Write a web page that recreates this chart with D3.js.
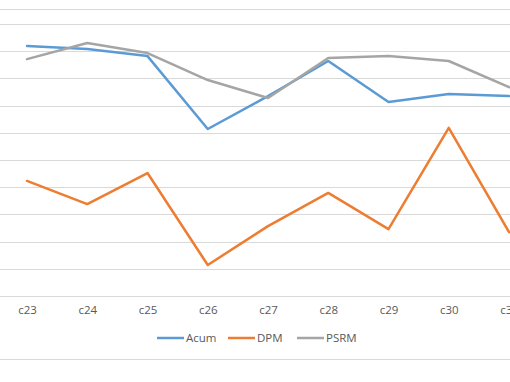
<!DOCTYPE html>
<html>
<head>
<meta charset="utf-8">
<script src="https://cdn.jsdelivr.net/npm/d3@7"></script>
<style>
  body { margin: 0; background: #fff; }
  text { font-family: "Open Sans", "Liberation Sans", sans-serif; fill: #595959; }
</style>
</head>
<body>
<svg id="chart" width="510" height="382"></svg>
<script>
// categories (c31 sits on the right edge, cropped)
var categories = ["c23", "c24", "c25", "c26", "c27", "c28", "c29", "c30", "c31"];

// series values (gridline = 1 unit)
var acum = [9.19, 9.08, 8.82, 6.14, 7.35, 8.64, 7.13, 7.43, 7.35];
var dpm  = [4.23, 3.38, 4.52, 1.14, 2.57, 3.79, 2.46, 6.18, 2.35];
var psrm = [8.71, 9.30, 8.93, 7.94, 7.28, 8.75, 8.82, 8.64, 7.68];

var yTicks = [0, 1, 2, 3, 4, 5, 6, 7, 8, 9, 10];

var series = [
  {name: "Acum", values: acum, color: "#5B9BD5"},
  {name: "DPM",  values: dpm,  color: "#ED7D31"},
  {name: "PSRM", values: psrm, color: "#A5A5A5"}
];

var svg = d3.select("#chart");

// x: point positions, c23 at 27px, step ~60px
var x = d3.scalePoint()
  .domain(categories)
  .range([27, 27 + 60.25 * (categories.length - 1)]);

var y = d3.scaleLinear()
  .domain([0, 10])
  .range([296, 24]);

// top border line of the crop
svg.append("line")
  .attr("x1", 0).attr("x2", 510)
  .attr("y1", 9.5).attr("y2", 9.5)
  .attr("stroke", "#D9D9D9").attr("stroke-width", 1);

// gridlines
svg.append("g")
  .selectAll("line")
  .data(yTicks)
  .enter().append("line")
    .attr("x1", 0).attr("x2", 510)
    .attr("y1", d => Math.round(y(d)) + 0.5)
    .attr("y2", d => Math.round(y(d)) + 0.5)
    .attr("stroke", "#D9D9D9")
    .attr("stroke-width", 1);

// x axis labels
var xAxis = d3.axisBottom(x).tickSize(0).tickPadding(10);
var gx = svg.append("g")
  .attr("transform", "translate(0," + y(0) + ")")
  .call(xAxis);
gx.select(".domain").remove();
gx.selectAll("text")
  .style("font-size", "11.5px")
  .attr("fill", "#595959");

// lines
var line = d3.line()
  .x((d, i) => x(categories[i]))
  .y(d => y(d));

svg.append("g")
  .selectAll("path")
  .data(series)
  .enter().append("path")
    .attr("d", d => line(d.values))
    .attr("fill", "none")
    .attr("stroke", d => d.color)
    .attr("stroke-width", 2.5)
    .attr("stroke-linejoin", "round")
    .attr("stroke-linecap", "round");

// legend
var legendX = [157, 228, 297];
var legend = svg.append("g")
  .selectAll("g")
  .data(series)
  .enter().append("g")
    .attr("transform", (d, i) => "translate(" + legendX[i] + ",338)");
legend.append("line")
  .attr("x1", 0).attr("x2", 27)
  .attr("y1", 0).attr("y2", 0)
  .attr("stroke", d => d.color)
  .attr("stroke-width", 2.5);
legend.append("text")
  .attr("x", 29)
  .attr("y", 4)
  .style("font-size", "11.5px")
  .text(d => d.name);

// bottom border
svg.append("line")
  .attr("x1", 0).attr("x2", 510)
  .attr("y1", 359.5).attr("y2", 359.5)
  .attr("stroke", "#D9D9D9").attr("stroke-width", 1);
</script>
</body>
</html>
